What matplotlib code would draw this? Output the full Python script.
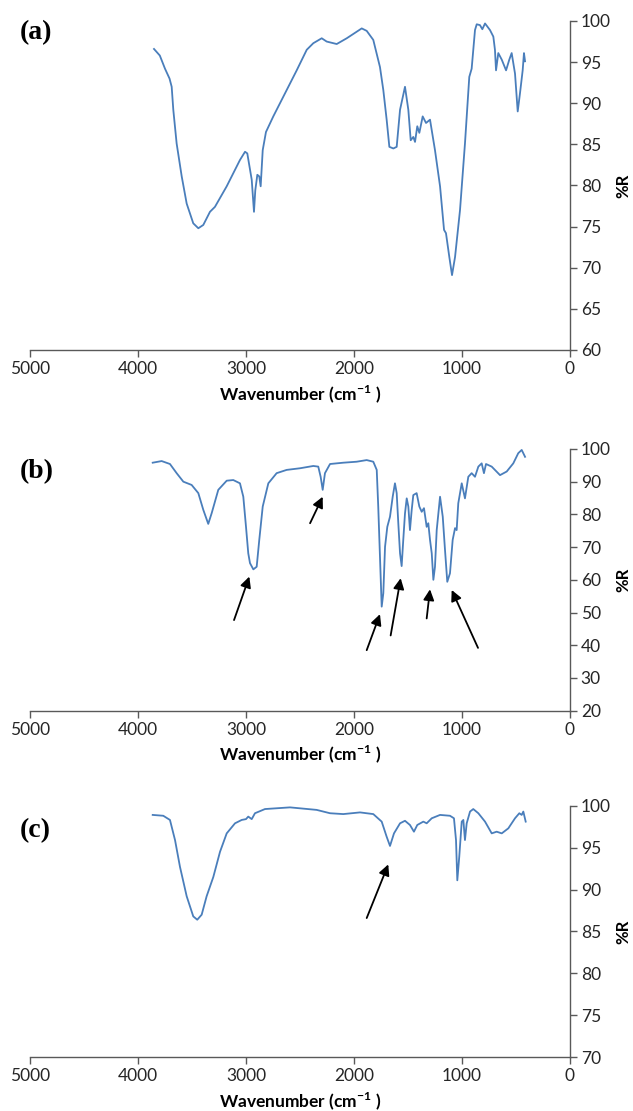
import numpy as np
import matplotlib.pyplot as plt

plt.rcParams['font.family'] = ['Lato', 'DejaVu Sans']

# spectrum (a)
wn_a = [3854, 3800, 3752, 3710, 3690, 3675, 3644, 3597, 3551, 3490, 3443, 3397, 3335, 3289,
        3180, 3057, 3010, 2989, 2948, 2927, 2915, 2896, 2878, 2865, 2846, 2816,
        2748, 2686, 2624, 2531, 2438, 2377, 2299, 2253, 2160, 2067, 1928, 1882,
        1821, 1759, 1728, 1697, 1672, 1635, 1604, 1573, 1527, 1496, 1474, 1450,
        1434, 1413, 1394, 1363, 1332, 1295, 1249, 1202, 1165, 1147, 1116, 1091,
        1063, 1017, 971, 931, 909, 878, 862, 832, 810, 785, 739, 708, 693, 683,
        662, 630, 590, 560, 538, 507, 482, 461, 436, 424, 414]
r_a = [96.6, 95.8, 94.2, 93.0, 92.0, 89.2, 85.1, 81.1, 77.8, 75.4, 74.8, 75.2, 76.8, 77.4,
       79.9, 83.1, 84.1, 83.9, 80.7, 76.8, 79.4, 81.3, 81.1, 79.9, 84.3, 86.5,
       88.4, 90.0, 91.6, 94.0, 96.5, 97.3, 97.9, 97.5, 97.2, 97.9, 99.1, 98.8,
       97.7, 94.4, 91.6, 88.0, 84.7, 84.5, 84.7, 89.2, 92.0, 89.2, 85.5, 85.9,
       85.3, 87.2, 86.4, 88.4, 87.6, 88.0, 84.3, 79.9, 74.6, 74.2, 71.3, 69.1,
       71.3, 77.0, 85.1, 93.2, 94.2, 98.9, 99.6, 99.5, 99.0, 99.7, 98.9, 98.1,
       96.5, 94.0, 96.1, 95.3, 94.0, 95.3, 96.1, 93.6, 89.0, 91.2, 94.0, 96.1, 95.1]

# spectrum (b)
wn_b = [3866, 3783, 3706, 3644, 3582, 3505, 3443, 3397, 3351, 3319, 3258, 3180,
        3119, 3057, 3026, 3001, 2980, 2964, 2933, 2902, 2878, 2846, 2794, 2717,
        2624, 2500, 2377, 2331, 2309, 2290, 2269, 2222, 2099, 1975, 1882, 1821,
        1789, 1775, 1759, 1743, 1728, 1712, 1691, 1666, 1641, 1620, 1604, 1589,
        1573, 1558, 1543, 1527, 1511, 1496, 1481, 1465, 1450, 1419, 1394, 1372,
        1351, 1326, 1311, 1295, 1279, 1264, 1249, 1233, 1202, 1177, 1156, 1135,
        1110, 1085, 1063, 1048, 1033, 1001, 971, 940, 909, 878, 847, 816, 795,
        776, 723, 646, 584, 523, 477, 445, 414]
r_b = [95.8, 96.3, 95.4, 92.6, 90.0, 89.0, 86.5, 81.4, 77.1, 80.4, 87.5, 90.3,
       90.5, 89.5, 85.4, 76.2, 68.1, 65.1, 63.2, 64.0, 72.2, 82.4, 89.5, 92.6,
       93.6, 94.1, 94.8, 94.6, 91.5, 87.5, 92.6, 95.4, 95.8, 96.1, 96.6, 96.1,
       93.6, 82.4, 67.1, 51.8, 55.9, 70.1, 76.2, 79.3, 85.4, 89.5, 86.5, 77.3,
       68.1, 64.2, 72.2, 80.3, 84.9, 82.4, 75.2, 81.3, 85.9, 86.5, 82.4, 80.8,
       81.9, 76.2, 77.3, 72.2, 68.1, 60.0, 64.0, 75.2, 85.4, 79.3, 69.1, 59.4,
       62.0, 72.2, 75.8, 75.2, 83.4, 89.5, 84.9, 91.5, 92.6, 91.5, 94.6, 95.6, 92.6,
       95.4, 94.6, 92.0, 93.1, 95.6, 98.7, 99.7, 97.6]

# spectrum (c)
wn_c = [3866, 3768, 3706, 3659, 3613, 3551, 3490, 3453, 3412, 3366, 3304, 3242,
        3180, 3103, 3041, 3001, 2980, 2948, 2918, 2825, 2593, 2346, 2222, 2099,
        1944, 1821, 1743, 1697, 1666, 1629, 1573, 1527, 1481, 1444, 1413, 1357,
        1326, 1279, 1202, 1110, 1073, 1054, 1042, 1024, 1001, 986, 971, 955, 924,
        894, 847, 785, 723, 677, 630, 569, 507, 467, 445, 430, 408]
r_c = [98.9, 98.8, 98.3, 95.9, 92.7, 89.2, 86.8, 86.4, 87.0, 89.2, 91.5, 94.5,
       96.7, 97.9, 98.3, 98.4, 98.7, 98.4, 99.1, 99.6, 99.8, 99.5, 99.1, 99.0,
       99.2, 99.0, 98.1, 96.3, 95.2, 96.7, 97.9, 98.2, 97.7, 96.9, 97.7, 98.1,
       97.9, 98.5, 98.9, 98.8, 98.5, 95.9, 91.1, 93.9, 98.1, 98.3, 95.9, 97.9, 99.3,
       99.6, 99.1, 98.1, 96.7, 96.9, 96.7, 97.3, 98.5, 99.1, 98.9, 99.3, 98.1]

# arrows: (tail wn, tail R, tip wn, tip R)
arrows_b = [(3112, 47.7, 2970, 61.0), (2407, 77.3, 2290, 85.4),
            (1882, 38.5, 1759, 49.5), (1660, 43.0, 1567, 60.5),
            (1326, 48.2, 1295, 57.1), (850, 39.2, 1094, 56.9)]
arrows_c = [(1882, 86.6, 1682, 93.0)]

panels = [
    ('(a)', wn_a, r_a, (60, 100), np.arange(60, 101, 5), [], [0.048, 0.685, 0.852, 0.2961], 33),
    ('(b)', wn_b, r_b, (20, 100), np.arange(20, 101, 10), arrows_b, [0.048, 0.3603, 0.852, 0.2356], 472),
    ('(c)', wn_c, r_c, (70, 100), np.arange(70, 101, 5), arrows_c, [0.048, 0.0484, 0.852, 0.2264], 831),
]

fig = plt.figure(figsize=(6.33, 11.11), dpi=100)
for label, wn, r, ylim, yticks, arrows, rect, ly in panels:
    ax = fig.add_axes(rect)
    ax.plot(wn, r, color='#4a7ebb', lw=1.3)
    ax.set_xlim(5000, 0)
    ax.set_ylim(*ylim)
    ax.set_xticks(np.arange(0, 5001, 1000))
    ax.set_yticks(yticks)
    ax.yaxis.tick_right()
    ax.yaxis.set_label_position('right')
    for s in ['top', 'left']:
        ax.spines[s].set_visible(False)
    for s in ['bottom', 'right']:
        ax.spines[s].set_color('#595959')
        ax.spines[s].set_linewidth(1.0)
    ax.tick_params(direction='out', length=5, width=1, color='#595959',
                   labelsize=12.5, labelcolor='#262626', pad=3)
    ax.set_xlabel('Wavenumber (cm$^{\\mathregular{-1}}$ )', fontsize=12.5,
                  fontweight='bold', labelpad=4)
    ax.set_ylabel('%R', fontsize=12, fontweight='bold', rotation=90, labelpad=3)
    for x0, y0, x1, y1 in arrows:
        ax.annotate('', xy=(x1, y1), xytext=(x0, y0),
                    arrowprops=dict(arrowstyle='-|>', color='black', lw=1.3,
                                    mutation_scale=16, shrinkA=0, shrinkB=0))
    fig.text(20 / 633, 1 - ly / 1111, label, fontsize=20, fontweight='bold',
             family='Liberation Serif', va='center', ha='left')

fig.savefig('out.png', dpi=100)
